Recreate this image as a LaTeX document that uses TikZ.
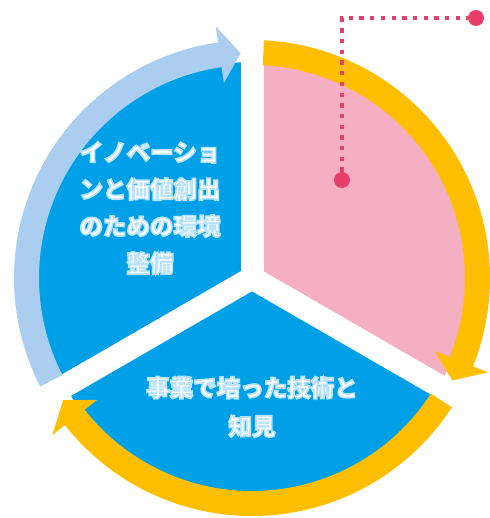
\documentclass[tikz,border=0pt]{standalone}
\usepackage{fontspec}
\newfontfamily\cjk{Noto Sans CJK JP}
\definecolor{secblue}{RGB}{0,160,233}
\definecolor{secpink}{RGB}{245,175,195}
\definecolor{arrowyellow}{RGB}{255,190,0}
\definecolor{arrowlight}{RGB}{170,205,240}
\definecolor{accent}{RGB}{232,62,106}
% outline glow: fill white, stroke pale blue (text render mode 2)
\newcommand\glowon{\special{pdf:literal direct 2 Tr 1.6 w 0.72 0.89 0.98 RG}}
\newcommand\glowoff{\special{pdf:literal direct 0 Tr}}
\newcommand\cyclearrow[4]{%
  \fill[#1] (#2:238pt) arc[start angle=#2, end angle=#3, radius=238pt]
    -- (#3:254pt) -- (#4:225pt) -- (#3:197pt) -- (#3:213pt)
    arc[start angle=#3, end angle=#2, radius=213pt] -- cycle;}
\tikzset{
  gapstrip/.style={draw=white, line width=23pt},
  lighttrack/.style={fill=arrowlight},
  yellowtrack/.style={fill=arrowyellow},
  marker/.style={circle, fill=accent, minimum size=16pt, inner sep=0pt},
  leader/.style={draw=accent, line width=4.3pt, dash pattern=on 4.3pt off 6.4pt},
  caption/.style={align=center, inner sep=0pt, text=white, font={\cjk\bfseries\fontsize{23.5pt}{37pt}\selectfont}},
}
\begin{document}
\begin{tikzpicture}[x=1pt,y=1pt]
\useasboundingbox (0,0) rectangle (489,518);
\begin{scope}[shift={(252,240)}]
  % sectors
  \fill[secpink] (0,0) -- (90:216pt) arc[start angle=90, end angle=-30, radius=216pt] -- cycle;
  \fill[secblue] (0,0) -- (90:216pt) arc[start angle=90, end angle=210, radius=216pt] -- cycle;
  \fill[secblue] (0,0) -- (210:216pt) arc[start angle=210, end angle=330, radius=216pt] -- cycle;
  % gaps
  \draw[gapstrip] (0,0) -- (90:222pt);
  \draw[gapstrip] (0,0) -- (210:222pt);
  \draw[gapstrip] (0,0) -- (-30:222pt);
  % circular arrows
  \cyclearrow{lighttrack}{207.1}{98.2}{92.9}
  \cyclearrow{yellowtrack}{87.1}{-21.8}{-27.1}
  \cyclearrow{yellowtrack}{-32.9}{-141.8}{-147.1}
\end{scope}
% leader line with markers
\node[marker] (d1) at (342,338) {};
\node[marker] (d2) at (476,500) {};
\coordinate (corner) at (342,500);
\draw[leader] (d1) -- (corner) -- (d2);
% texts
\node[caption] (envtext) at (150,310) {\glowon イノベーショ\\ンと価値創出\\のための環境\\整備\glowoff};
\node[caption, font={\cjk\bfseries\fontsize{23.5pt}{38.5pt}\selectfont}] (techtext) at (252,111) {\glowon 事業で培った技術と\\知見\glowoff};
\end{tikzpicture}
\end{document}
